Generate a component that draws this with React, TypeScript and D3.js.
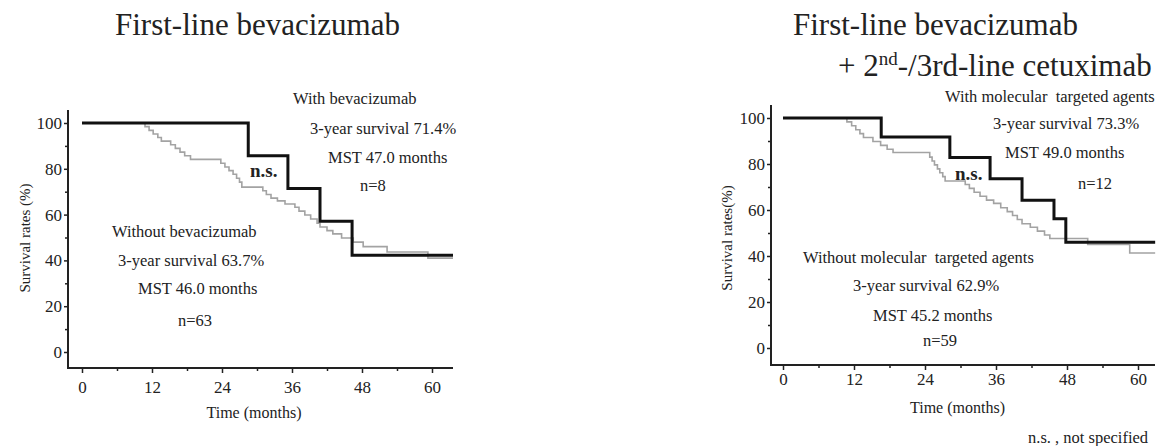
import React, { useEffect, useRef } from "react";
import * as d3 from "d3";

type Pt = [number, number];

// axis ticks
const monthTicks = [0, 12, 24, 36, 48, 60];
const monthMinor = [6, 18, 30, 42, 54];
const rateTicks = [0, 20, 40, 60, 80, 100];
const rateMinor = [10, 30, 50, 70, 90];

// left panel: first-line bevacizumab (month, survival %)
const bevWith: Pt[] = [
  [0, 100], [28.5, 85.7], [35.3, 71.4], [40.8, 57.1], [46.3, 42.2], [63.6, 42.2]
];
const bevWithout: Pt[] = [
  [0, 100], [10.8, 98.4], [11.5, 96.8], [12.2, 95.2], [13.0, 93.7], [13.6, 92.1],
  [15.2, 90.5], [16.0, 88.9], [16.8, 87.3], [17.6, 85.7], [18.6, 84.1],
  [23.8, 82.4], [24.5, 80.8], [25.2, 79.2], [25.9, 77.6], [26.5, 75.9], [27.0, 74.2], [27.4, 72.0],
  [31.0, 70.4], [31.6, 68.8], [32.4, 67.2], [33.5, 66.0], [34.8, 64.6],
  [36.5, 63.2], [37.2, 61.5], [38.2, 59.8], [39.2, 58.1], [40.3, 56.2], [40.8, 54.6],
  [42.0, 53.0], [43.0, 51.6], [44.5, 49.8], [46.5, 48.0], [48.2, 46.0],
  [52.3, 43.7], [59.3, 41.0], [63.6, 41.0]
];

// right panel: bevacizumab + 2nd/3rd-line cetuximab
const molWith: Pt[] = [
  [0, 100], [16.6, 91.7], [28.2, 82.8], [35.0, 73.6], [40.4, 64.2], [45.8, 56.2], [47.8, 46.0], [62.9, 46.0]
];
const molWithout: Pt[] = [
  [0, 100], [10.8, 98.3], [11.6, 96.6], [12.3, 94.9], [13.0, 93.2], [13.6, 91.5],
  [15.2, 89.8], [16.5, 88.1], [17.6, 86.4], [18.6, 85.0],
  [24.8, 83.0], [25.2, 81.3], [25.6, 79.6], [26.1, 77.9], [26.5, 76.2], [27.0, 74.5], [27.4, 72.6],
  [30.8, 71.1], [31.5, 69.4], [32.3, 67.7], [33.3, 66.0], [34.4, 64.3], [35.6, 62.9],
  [36.8, 61.0], [37.9, 59.3], [38.8, 57.6], [39.6, 55.9], [40.4, 54.0], [41.8, 52.5],
  [43.0, 50.8], [44.2, 49.1], [45.1, 47.6], [51.5, 45.0], [58.6, 41.3], [62.9, 41.3]
];

const FONT = "'Liberation Serif', 'Times New Roman', serif";

type Note = { text: string; x: number; y: number; bold?: boolean; size?: number };

const panels = [
  {
    x0: 82, x60: 432, y0: 352, y100: 123,
    axisX: 68, axisTop: 110, axisY: 368, axisRight: 453,
    tickPad: 8, xTitleY: 412, yTitleX: 25,
    yTitle: "Survival rates (%)",
    withData: bevWith, withoutData: bevWithout,
    notes: [
      { text: "With bevacizumab", x: 293, y: 98 },
      { text: "3-year survival 71.4%", x: 310, y: 128 },
      { text: "MST 47.0 months", x: 328, y: 157 },
      { text: "n=8", x: 360, y: 185 },
      { text: "n.s.", x: 250, y: 170, bold: true, size: 19 },
      { text: "Without bevacizumab", x: 112, y: 231 },
      { text: "3-year survival 63.7%", x: 118, y: 260 },
      { text: "MST 46.0 months", x: 138, y: 288 },
      { text: "n=63", x: 178, y: 320 }
    ] as Note[]
  },
  {
    x0: 783, x60: 1138, y0: 348, y100: 118,
    axisX: 771, axisTop: 105, axisY: 365, axisRight: 1155,
    tickPad: 3, xTitleY: 407, yTitleX: 727,
    yTitle: "Survival rates(%)",
    withData: molWith, withoutData: molWithout,
    notes: [
      { text: "With molecular  targeted agents", x: 945, y: 96 },
      { text: "3-year survival 73.3%", x: 993, y: 123 },
      { text: "MST 49.0 months", x: 1005, y: 152 },
      { text: "n=12", x: 1078, y: 183 },
      { text: "n.s.", x: 955, y: 173, bold: true, size: 19 },
      { text: "Without molecular  targeted agents", x: 803, y: 257 },
      { text: "3-year survival 62.9%", x: 853, y: 285 },
      { text: "MST 45.2 months", x: 873, y: 315 },
      { text: "n=59", x: 923, y: 340 },
      { text: "n.s. , not specified", x: 1028, y: 437 }
    ] as Note[]
  }
];

function drawPanel(svg: d3.Selection<SVGSVGElement, unknown, null, undefined>, p: typeof panels[0]) {
  const x = d3.scaleLinear().domain([0, 60]).range([p.x0, p.x60]);
  const y = d3.scaleLinear().domain([0, 100]).range([p.y0, p.y100]);
  const g = svg.append("g");

  // axis lines
  g.append("line")
    .attr("x1", p.axisX).attr("x2", p.axisX)
    .attr("y1", p.axisTop).attr("y2", p.axisY)
    .attr("stroke", "#222").attr("stroke-width", 2);
  g.append("line")
    .attr("x1", p.axisX - 1).attr("x2", p.axisRight)
    .attr("y1", p.axisY).attr("y2", p.axisY)
    .attr("stroke", "#222").attr("stroke-width", 2);

  // y ticks
  g.append("g")
    .attr("transform", `translate(${p.axisX}, 0)`)
    .call(d3.axisLeft(y).tickValues(rateTicks).tickSize(4).tickPadding(2).tickFormat(d3.format("d")))
    .call(s => s.select(".domain").remove());
  g.append("g")
    .attr("transform", `translate(${p.axisX}, 0)`)
    .call(d3.axisLeft(y).tickValues(rateMinor).tickSize(3).tickFormat(() => ""))
    .call(s => s.select(".domain").remove());

  // x ticks
  g.append("g")
    .attr("transform", `translate(0, ${p.axisY})`)
    .call(d3.axisBottom(x).tickValues(monthTicks).tickSize(5).tickPadding(p.tickPad).tickFormat(d3.format("d")))
    .call(s => s.select(".domain").remove());
  g.append("g")
    .attr("transform", `translate(0, ${p.axisY})`)
    .call(d3.axisBottom(x).tickValues(monthMinor).tickSize(3).tickFormat(() => ""))
    .call(s => s.select(".domain").remove());

  g.selectAll(".tick line").attr("stroke", "#222").attr("stroke-width", 1.5);
  g.selectAll(".tick text")
    .attr("font-family", FONT)
    .attr("font-size", 17)
    .attr("fill", "#222");

  // axis titles
  g.append("text")
    .attr("x", (p.x0 + p.x60) / 2 - 3)
    .attr("y", p.xTitleY)
    .attr("text-anchor", "middle")
    .attr("dominant-baseline", "central")
    .attr("font-family", FONT)
    .attr("font-size", 16)
    .attr("fill", "#222")
    .text("Time (months)");
  g.append("text")
    .attr("transform", `translate(${p.yTitleX}, 238) rotate(-90)`)
    .attr("text-anchor", "middle")
    .attr("dominant-baseline", "central")
    .attr("font-family", FONT)
    .attr("font-size", 15)
    .attr("fill", "#222")
    .text(p.yTitle);

  // survival curves
  const line = d3.line<Pt>()
    .x(d => x(d[0]))
    .y(d => y(d[1]))
    .curve(d3.curveStepAfter);

  g.append("path")
    .attr("d", line(p.withoutData))
    .attr("fill", "none")
    .attr("stroke", "#a3a3a3")
    .attr("stroke-width", 1.6);
  g.append("path")
    .attr("d", line(p.withData))
    .attr("fill", "none")
    .attr("stroke", "#111")
    .attr("stroke-width", 3);

  // annotations
  g.selectAll("text.note")
    .data(p.notes)
    .enter()
    .append("text")
    .attr("class", "note")
    .attr("x", d => d.x)
    .attr("y", d => d.y)
    .attr("dominant-baseline", "central")
    .attr("font-family", FONT)
    .attr("font-size", d => d.size || 16.5)
    .attr("font-weight", d => (d.bold ? "bold" : "normal"))
    .attr("fill", "#222")
    .attr("xml:space", "preserve")
    .style("white-space", "pre")
    .text(d => d.text);
}

export default function App() {
  const ref = useRef<SVGSVGElement>(null);

  useEffect(() => {
    const svg = d3.select(ref.current);
    svg.selectAll("*").remove();

    // titles
    svg.append("text")
      .attr("x", 115).attr("y", 35)
      .attr("font-family", FONT).attr("font-size", 31).attr("fill", "#222")
      .text("First-line bevacizumab");
    svg.append("text")
      .attr("x", 793).attr("y", 35)
      .attr("font-family", FONT).attr("font-size", 31).attr("fill", "#222")
      .text("First-line bevacizumab");
    const t2 = svg.append("text")
      .attr("x", 838).attr("y", 76)
      .attr("font-family", FONT).attr("font-size", 31).attr("fill", "#222");
    t2.append("tspan").text("+ 2");
    t2.append("tspan").attr("font-size", 19).attr("dy", -11).text("nd");
    t2.append("tspan").attr("dy", 11).text("-/3rd-line cetuximab");

    panels.forEach(p => drawPanel(svg as any, p));
  }, []);

  return (
    <svg
      ref={ref}
      width={1171}
      height={446}
      style={{ position: "absolute", left: 0, top: 0, background: "#fff" }}
    />
  );
}
